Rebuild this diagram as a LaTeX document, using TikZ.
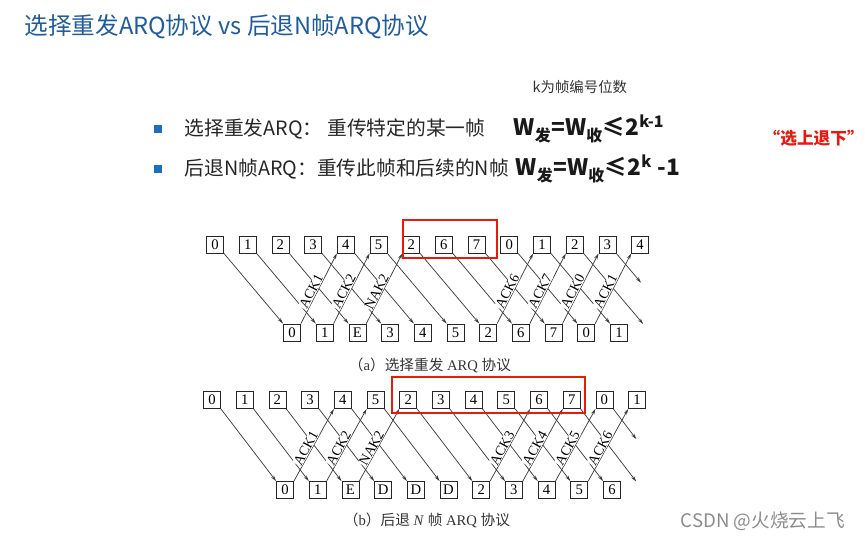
\documentclass[tikz,border=0pt]{standalone}
\usepackage{fontspec}
\setmainfont{Liberation Serif}
\newfontfamily\cjk{Noto Sans CJK SC}
\usetikzlibrary{arrows.meta}
\definecolor{titleblue}{HTML}{1F5C9E}
\definecolor{bulletblue}{HTML}{1E6EBF}
\definecolor{boxred}{HTML}{E8190F}
\definecolor{linegray}{HTML}{3C3C3C}
\begin{document}
\begin{tikzpicture}[x=0.75pt, y=-0.75pt,
    frame/.style={draw=black!85, line width=0.6pt, minimum size=12.75pt, inner sep=0pt, font=\fontsize{11}{11}\selectfont},
    link/.style={draw=linegray, line width=0.55pt, -{Stealth[length=4.5pt, width=2.5pt]}},
    acklab/.style={sloped, above, pos=0.42, fill=white, inner sep=0.3pt, font=\fontsize{10.5}{10.5}\selectfont},
    redbox/.style={draw=boxred, line width=1.3pt},
    bullet/.style={fill=bulletblue, minimum size=6pt, inner sep=0pt}]
  \useasboundingbox (0,0) rectangle (865,539);
  \node[anchor=west, text=titleblue, font=\cjk\fontsize{17.7}{20}\selectfont] (title) at (20,27) {选择重发ARQ协议 vs 后退N帧ARQ协议};
  \node[anchor=west, text=black!80, font=\cjk\fontsize{10.8}{12}\selectfont] (note) at (528,87) {k为帧编号位数};
  \node[bullet] (b1) at (157.5,129) {};
  \node[anchor=west, text=black!85, font=\cjk\fontsize{14.8}{16}\selectfont] (l1) at (180,129) {选择重发ARQ：\hspace{0.25em}重传特定的某一帧};
  \node[anchor=west, text=black!90, font=\cjk\bfseries\fontsize{17}{18}\selectfont] (f1) at (509,129) {W\textsubscript{发}=W\textsubscript{收}≤2\textsuperscript{k-1}};
  \node[bullet] (b2) at (157.5,169) {};
  \node[anchor=west, text=black!85, font=\cjk\fontsize{14.8}{16}\selectfont] (l2) at (180,169) {后退N帧ARQ：重传此帧和后续的N帧};
  \node[anchor=west, text=black!90, font=\cjk\bfseries\fontsize{17}{18}\selectfont] (f2) at (511,169) {W\textsubscript{发}=W\textsubscript{收}≤2\textsuperscript{k} -1};
  \node[anchor=west, text=boxred, font=\cjk\bfseries\fontsize{12.5}{14}\selectfont] (tip) at (759,138) {“选上退下”};

  % (a)
  \foreach \t [count=\i from 0] in {0,1,2,3,4,5,2,6,7,0,1,2,3,4}
    \node[frame] (ta\i) at ({215+32.7*\i},244.5) {\t};
  \foreach \r [count=\j from 0] in {0,1,E,3,4,5,2,6,7,0,1}
    \node[frame] (ra\j) at ({292+32.7*\j},332.5) {\r};
  \foreach \i in {0,...,10}
    \draw[link] (ta\i.south east) -- (ra\i.north west);
  \coordinate (ea) at (643.2,324);
  \coordinate (sa) at (641.1,282.8);
  \draw[link] (ta11.south east) -- (ea);
  \draw[link] (ta12.south east) -- (sa);
  \foreach \j/\l in {0/ACK1,1/ACK2,2/NAK2,6/ACK6,7/ACK7,8/ACK0,9/ACK1} {
    \pgfmathtruncatemacro\k{\j+4}
    \draw[link] (ra\j.north east) -- node[acklab] {\l} (ta\k.south west);
  }
  \draw[redbox] (403,220) rectangle (497,258);
  \node[text=black!80, font=\fontsize{11}{12}\selectfont] (capa) at (430,365) {{\cjk （}a{\cjk ）选择重发} ARQ {\cjk 协议}};

  % (b)
  \foreach \t [count=\i from 0] in {0,1,2,3,4,5,2,3,4,5,6,7,0,1}
    \node[frame] (tb\i) at ({212+32.7*\i},400) {\t};
  \foreach \r [count=\j from 0] in {0,1,E,D,D,D,2,3,4,5,6}
    \node[frame] (rb\j) at ({285+32.7*\j},490) {\r};
  \foreach \i in {0,...,10}
    \draw[link] (tb\i.south east) -- (rb\i.north west);
  \coordinate (eb) at (636.2,481.5);
  \coordinate (sb) at (636.4,439.2);
  \draw[link] (tb11.south east) -- (eb);
  \draw[link] (tb12.south east) -- (sb);
  \foreach \j/\l in {0/ACK1,1/ACK2,2/NAK2,6/ACK3,7/ACK4,8/ACK5,9/ACK6} {
    \pgfmathtruncatemacro\k{\j+4}
    \draw[link] (rb\j.north east) -- node[acklab] {\l} (tb\k.south west);
  }
  \draw[redbox] (392,377) rectangle (585,413);
  \node[text=black!80, font=\fontsize{11}{12}\selectfont] (capb) at (427,520) {{\cjk （}b{\cjk ）后退} \textit{N} {\cjk 帧} ARQ {\cjk 协议}};

  \node[anchor=west, text=black!45, font=\cjk\fontsize{14}{16}\selectfont] (mark) at (676,521) {CSDN @火烧云上飞};
\end{tikzpicture}
\end{document}
